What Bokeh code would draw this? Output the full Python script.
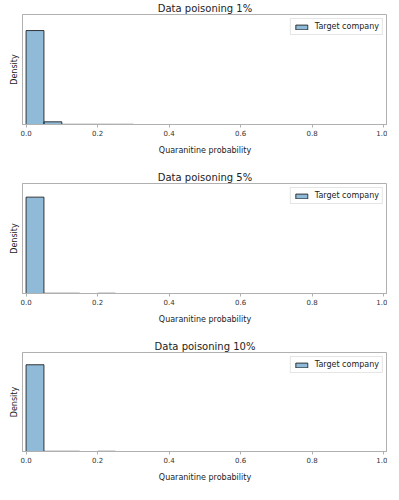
from bokeh.plotting import figure
from bokeh.layouts import column
from bokeh.models import FixedTicker, Range1d
from bokeh.embed import file_html
from bokeh.resources import INLINE

# ---- data ----
bin_edges = [0.00, 0.05, 0.10, 0.15, 0.20, 0.25, 0.30]
titles = ["Data poisoning 1%", "Data poisoning 5%", "Data poisoning 10%"]
density_1 = [19.3, 0.55, 0.03, 0.03, 0.03, 0.03]
density_5 = [19.8, 0.04, 0.04, 0.0, 0.04, 0.0]
density_10 = [19.8, 0.04, 0.04, 0.0, 0.04, 0.0]
densities = [density_1, density_5, density_10]
x_ticks = [0.0, 0.2, 0.4, 0.6, 0.8, 1.0]
x_tick_labels = ["0.0", "0.2", "0.4", "0.6", "0.8", "1.0"]
x_label = "Quaranitine probability"
y_label = "Density"
legend_text = "Target company"
y_top = 22.6

FONT = "DejaVu Sans"
heights = [169, 169, 146]
bottoms = [45, 45, 0]

figs = []
for i in range(3):
    p = figure(width=387, height=heights[i], output_backend="svg",
               toolbar_location=None, x_range=Range1d(-0.01, 1.011),
               y_range=Range1d(0, y_top), min_border_left=22,
               min_border_right=0, min_border_top=0,
               min_border_bottom=bottoms[i])
    p.title.text = titles[i]
    p.title.align = "center"
    p.title.text_font = FONT
    p.title.text_font_size = "10px"
    p.title.text_font_style = "normal"
    p.title.text_color = "#222222"
    p.title.standoff = 1
    p.title.offset = 0

    left = [bin_edges[k] for k in range(len(densities[i])) if densities[i][k] > 0]
    right = [bin_edges[k + 1] for k in range(len(densities[i])) if densities[i][k] > 0]
    top = [d for d in densities[i] if d > 0]
    p.quad(left=left, right=right, top=top, bottom=0,
           fill_color="#1f77b4", fill_alpha=0.5, line_color="#222222",
           line_width=0.9, legend_label=legend_text)

    p.xgrid.visible = False
    p.ygrid.visible = False
    p.outline_line_color = "#b0b0b0"
    p.outline_line_width = 1

    xa = p.xaxis[0]
    xa.ticker = FixedTicker(ticks=x_ticks)
    xa.major_label_overrides = {t: l for t, l in zip(x_ticks, x_tick_labels)}
    xa.minor_tick_line_color = None
    xa.major_tick_in = 0
    xa.major_tick_out = 3
    xa.major_tick_line_color = "#b0b0b0"
    xa.axis_line_color = "#b0b0b0"
    xa.major_label_text_font = FONT
    xa.major_label_text_font_size = "7px"
    xa.major_label_text_color = "#333333"
    xa.major_label_standoff = 2
    xa.axis_label = x_label
    xa.axis_label_text_font = FONT
    xa.axis_label_text_font_size = "8px"
    xa.axis_label_text_font_style = "normal"
    xa.axis_label_text_color = "#222222"
    xa.axis_label_standoff = 7

    ya = p.yaxis[0]
    ya.ticker = FixedTicker(ticks=[])
    ya.minor_tick_line_color = None
    ya.major_tick_line_color = None
    ya.axis_line_color = "#b0b0b0"
    ya.major_label_text_font_size = "0px"
    ya.major_label_standoff = 0
    ya.axis_label = y_label
    ya.axis_label_text_font = FONT
    ya.axis_label_text_font_size = "8px"
    ya.axis_label_text_font_style = "normal"
    ya.axis_label_text_color = "#222222"
    ya.axis_label_standoff = 4

    lg = p.legend[0]
    lg.location = "top_right"
    lg.margin = 4
    lg.padding = 3
    lg.label_text_font = FONT
    lg.label_text_font_size = "8px"
    lg.label_text_color = "#222222"
    lg.label_height = 8
    lg.glyph_height = 6
    lg.glyph_width = 15
    lg.label_standoff = 6
    lg.border_line_color = "#cccccc"
    lg.border_line_width = 1
    lg.background_fill_alpha = 0.8
    figs.append(p)

layout = column(*figs, spacing=0)
open("out.html", "w").write(file_html(layout, INLINE))
